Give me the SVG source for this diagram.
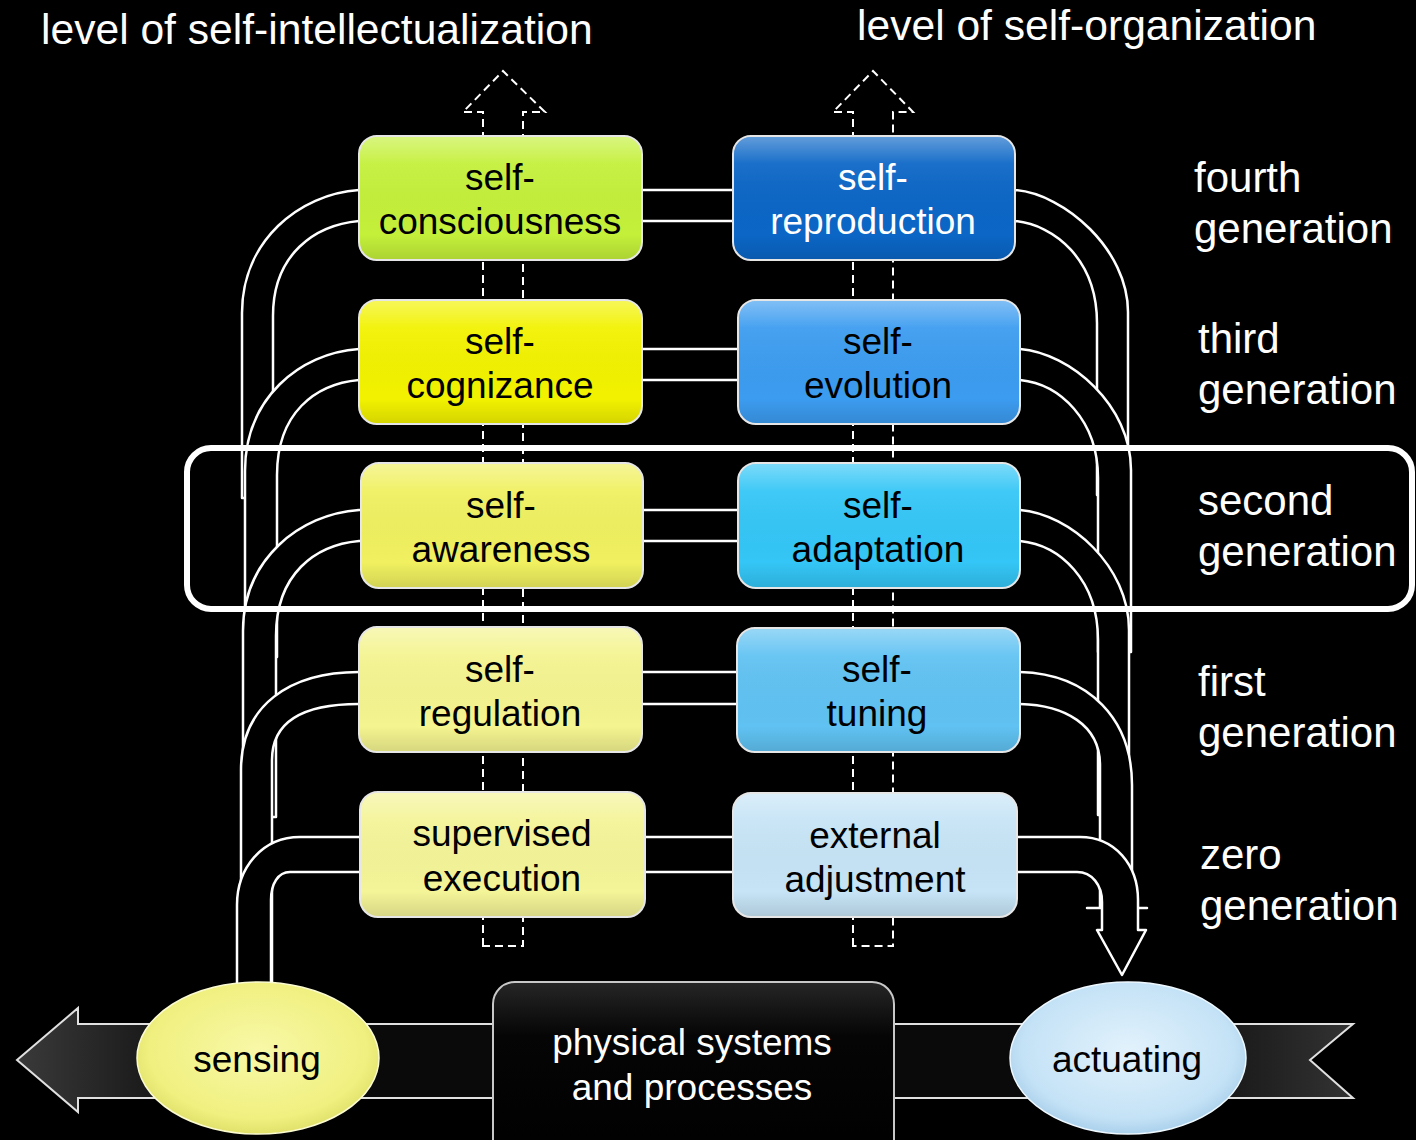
<svg xmlns="http://www.w3.org/2000/svg" width="1416" height="1140" viewBox="0 0 1416 1140">
<defs>
<style>
text { font-family: "Liberation Sans", Arial, sans-serif; }
.title { font-size: 42.6px; fill: #ffffff; }
.gen { font-size: 42px; fill: #ffffff; }
.bt { font-size: 37px; fill: #000000; text-anchor: middle; }
.wt { fill: #ffffff; }
.band { fill: #000000; stroke: #ffffff; stroke-width: 2.5; stroke-linejoin: round; }
.dash { fill: none; stroke: #ffffff; stroke-width: 2; stroke-dasharray: 8 5; }
.box { stroke: #e6e6e6; stroke-width: 2; }
.shine { fill: url(#shine); stroke: none; }
</style>
<linearGradient id="shine" x1="0" y1="0" x2="0" y2="1">
<stop offset="0" stop-color="#ffffff" stop-opacity="0.35"/>
<stop offset="0.22" stop-color="#ffffff" stop-opacity="0.06"/>
<stop offset="0.8" stop-color="#000000" stop-opacity="0"/>
<stop offset="1" stop-color="#000000" stop-opacity="0.12"/>
</linearGradient>
<radialGradient id="senseFill" cx="0.5" cy="0.45" r="0.6">
<stop offset="0" stop-color="#f8f8a8"/>
<stop offset="0.75" stop-color="#f0f080"/>
<stop offset="1" stop-color="#d8d860"/>
</radialGradient>
<radialGradient id="actFill" cx="0.5" cy="0.45" r="0.6">
<stop offset="0" stop-color="#e2f2fc"/>
<stop offset="0.75" stop-color="#c4e2f6"/>
<stop offset="1" stop-color="#9ec8e6"/>
</radialGradient>
<linearGradient id="bandFill" x1="0" y1="0" x2="1" y2="0">
<stop offset="0" stop-color="#3a3a3a"/>
<stop offset="0.15" stop-color="#0a0a0a"/>
<stop offset="0.85" stop-color="#0a0a0a"/>
<stop offset="1" stop-color="#333333"/>
</linearGradient>
<linearGradient id="physFill" x1="0" y1="0" x2="0" y2="1">
<stop offset="0" stop-color="#262626"/>
<stop offset="0.3" stop-color="#050505"/>
<stop offset="1" stop-color="#000000"/>
</linearGradient>
</defs>

<rect x="0" y="0" width="1416" height="1140" fill="#000000"/>

<g id="titles">
<text class="title" x="41" y="44">level of self-intellectualization</text>
<text class="title" x="857" y="40">level of self-organization</text>
</g>

<g id="connectors">
<path class="band" d="M242,498 L242,313 C242,241 299,194 359,190 L1015,190 C1065,194 1128,250 1128,312 L1128,495 L1097,495 L1097,323 C1097,260 1055,225 1015,221 L359,221 C315,225 273,254 273,316 L273,498 Z"/>
<path class="band" d="M245,657 L245,471 C245,399 299,353 359,349 L1020,349 C1070,353 1131,405 1131,470 L1131,652 L1098,652 L1098,478 C1098,420 1060,384 1020,380 L359,380 C315,384 277,413 277,475 L277,657 Z"/>
<path class="band" d="M243,817 L243,631 C243,559 300,514 359,510 L1020,510 C1070,514 1129,566 1129,630 L1129,815 L1098,815 L1098,640 C1098,580 1060,545 1020,541 L359,541 C315,545 276,574 276,636 L276,817 Z"/>
<path class="band" d="M241,992 L241,770 C241,705 290,672 359,672 L1020,672 C1090,674 1132,720 1132,785 L1132,908 L1147,908 L1087,908 L1100,908 L1100,765 C1100,725 1065,705 1020,704 L359,704 C305,704 272,720 272,760 L272,992 Z"/>
<path class="band" d="M237,992 L237,905 C237,868 262,837 300,837 L1080,837 C1115,837 1138,865 1138,900 L1138,930 L1146,930 L1122,975 L1097,930 L1102,930 L1102,902 C1102,885 1092,872 1077,872 L290,872 C278,872 271,884 271,900 L271,992 Z"/>
<path class="dash" d="M483,946 L483,112 L463,112 L503,71 L545,112 L523,112 L523,946 Z"/>
<path class="dash" d="M853,946 L853,112 L833,112 L873,71 L913,112 L893,112 L893,946 Z"/>
</g>

<g id="generation-highlight">
<rect x="187" y="448" width="1225" height="161" rx="24" fill="none" stroke="#ffffff" stroke-width="6"/>
</g>

<g id="self-consciousness">
<rect class="box" x="359" y="136" width="283" height="124" rx="18" fill="#c4f03a"/>
<rect class="shine" x="360" y="137" width="281" height="122" rx="17"/>
<text class="bt" x="500" y="190">self-</text>
<text class="bt" x="500" y="234">consciousness</text>
</g>
<g id="self-cognizance">
<rect class="box" x="359" y="300" width="283" height="124" rx="18" fill="#f2f200"/>
<rect class="shine" x="360" y="301" width="281" height="122" rx="17"/>
<text class="bt" x="500" y="354">self-</text>
<text class="bt" x="500" y="398">cognizance</text>
</g>
<g id="self-awareness">
<rect class="box" x="361" y="463" width="282" height="125" rx="18" fill="#f0f060"/>
<rect class="shine" x="362" y="464" width="280" height="123" rx="17"/>
<text class="bt" x="501" y="518">self-</text>
<text class="bt" x="501" y="562">awareness</text>
</g>
<g id="self-regulation">
<rect class="box" x="359" y="627" width="283" height="125" rx="18" fill="#f4f490"/>
<rect class="shine" x="360" y="628" width="281" height="123" rx="17"/>
<text class="bt" x="500" y="682">self-</text>
<text class="bt" x="500" y="726">regulation</text>
</g>
<g id="supervised-execution">
<rect class="box" x="360" y="792" width="285" height="125" rx="18" fill="#f4f498"/>
<rect class="shine" x="361" y="793" width="283" height="123" rx="17"/>
<text class="bt" x="502" y="846">supervised</text>
<text class="bt" x="502" y="891">execution</text>
</g>

<g id="self-reproduction">
<rect class="box" x="733" y="136" width="282" height="124" rx="18" fill="#0b66c6"/>
<rect class="shine" x="734" y="137" width="280" height="122" rx="17"/>
<text class="bt wt" x="873" y="190">self-</text>
<text class="bt wt" x="873" y="234">reproduction</text>
</g>
<g id="self-evolution">
<rect class="box" x="738" y="300" width="282" height="124" rx="18" fill="#3c9cf0"/>
<rect class="shine" x="739" y="301" width="280" height="122" rx="17"/>
<text class="bt" x="878" y="354">self-</text>
<text class="bt" x="878" y="398">evolution</text>
</g>
<g id="self-adaptation">
<rect class="box" x="738" y="463" width="282" height="125" rx="18" fill="#34c6f6"/>
<rect class="shine" x="739" y="464" width="280" height="123" rx="17"/>
<text class="bt" x="878" y="518">self-</text>
<text class="bt" x="878" y="562">adaptation</text>
</g>
<g id="self-tuning">
<rect class="box" x="737" y="628" width="283" height="124" rx="18" fill="#60c2f2"/>
<rect class="shine" x="738" y="629" width="281" height="122" rx="17"/>
<text class="bt" x="877" y="682">self-</text>
<text class="bt" x="877" y="726">tuning</text>
</g>
<g id="external-adjustment">
<rect class="box" x="733" y="793" width="284" height="124" rx="18" fill="#c6e4f6"/>
<rect class="shine" x="734" y="794" width="282" height="122" rx="17"/>
<text class="bt" x="875" y="848">external</text>
<text class="bt" x="875" y="892">adjustment</text>
</g>

<g id="generation-labels">
<text class="gen" x="1194" y="192">fourth</text>
<text class="gen" x="1194" y="243">generation</text>
<text class="gen" x="1198" y="353">third</text>
<text class="gen" x="1198" y="404">generation</text>
<text class="gen" x="1198" y="515">second</text>
<text class="gen" x="1198" y="566">generation</text>
<text class="gen" x="1198" y="696">first</text>
<text class="gen" x="1198" y="747">generation</text>
<text class="gen" x="1200" y="869">zero</text>
<text class="gen" x="1200" y="920">generation</text>
</g>

<g id="process-band">
<path d="M17,1060 L78,1008 L78,1024 L1353,1024 L1310,1060 L1353,1098 L78,1098 L78,1112 Z" fill="url(#bandFill)" stroke="#e0e0e0" stroke-width="2" stroke-linejoin="miter"/>
</g>

<g id="physical-systems">
<rect x="493" y="982" width="401" height="180" rx="22" fill="url(#physFill)" stroke="#c8c8c8" stroke-width="2"/>
<text class="bt wt" x="692" y="1055">physical systems</text>
<text class="bt wt" x="692" y="1100">and processes</text>
</g>

<g id="sensing">
<ellipse cx="258" cy="1058" rx="121" ry="76" fill="url(#senseFill)" stroke="#fbfbd0" stroke-width="1.5"/>
<text class="bt" x="257" y="1072">sensing</text>
</g>

<g id="actuating">
<ellipse cx="1128" cy="1058" rx="118" ry="76" fill="url(#actFill)" stroke="#eef8ff" stroke-width="1.5"/>
<text class="bt" x="1127" y="1072">actuating</text>
</g>
</svg>
